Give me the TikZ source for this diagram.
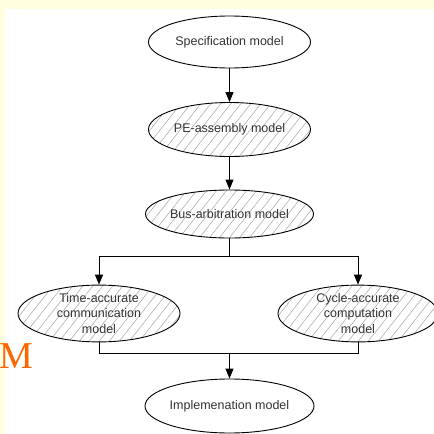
\documentclass[tikz,border=0pt]{standalone}
\usepackage{fontspec}
\setmainfont{Liberation Sans}
\newfontfamily\serifm{Liberation Serif}
\usetikzlibrary{shapes.geometric,arrows.meta}
\definecolor{bgyellow}{HTML}{FFFFE0}
\definecolor{txtgray}{HTML}{333333}
\definecolor{morange}{HTML}{FF6600}
\begin{document}
\begin{tikzpicture}[x=1pt,y=-1pt,
  model/.style={ellipse,draw=black,line width=0.9pt,fill=white,minimum width=162pt,minimum height=52pt,inner sep=0pt,
     font=\fontsize{12.5}{15.5}\selectfont,text=txtgray,align=center},
  hatched/.style={model,path picture={
     \foreach \i in {-12,...,12}
       \draw[gray!70,line width=0.5pt] ([xshift=\i*10pt-25pt,yshift=-6pt]path picture bounding box.south) -- ++(52pt,66pt);}},
  conn/.style={line width=1pt,draw=black},
  arr/.style={conn,-{Triangle[length=10pt,width=8pt]}}]
\useasboundingbox (0,0) rectangle (434,434);
\fill[bgyellow] (0,0) rectangle (434,434);
\fill[white] (5,9) rectangle (434,434);
\node[text=morange,font=\serifm\fontsize{38}{38}\selectfont,anchor=base west,inner sep=0pt] (m) at (-1,368) {M};
\node[model] (spec) at (229.5,42) {Specification model};
\node[hatched,minimum height=54pt] (pe) at (229.5,129.5) {PE-assembly model};
\node[hatched,minimum height=48pt] (bus) at (229.5,214) {Bus-arbitration model};
\node[hatched,minimum height=56pt] (time) at (99,313.5) {Time-accurate\\communication\\model};
\node[hatched,minimum height=56pt,minimum width=160pt] (cycle) at (358,313.5) {Cycle-accurate\\computation\\model};
\node[model,minimum height=54pt] (impl) at (229.5,406) {Implemenation model};
\coordinate (split) at (229.5,256);
\coordinate (join) at (229.5,353);
\draw[arr] (spec) -- (pe);
\draw[arr] (pe) -- (bus);
\draw[conn] (bus) -- (split);
\draw[arr] (split) -| (time);
\draw[arr] (split) -| (cycle);
\draw[conn] (time) |- (join);
\draw[conn] (cycle) |- (join);
\draw[arr] (join) -- (impl);
\end{tikzpicture}
\end{document}
